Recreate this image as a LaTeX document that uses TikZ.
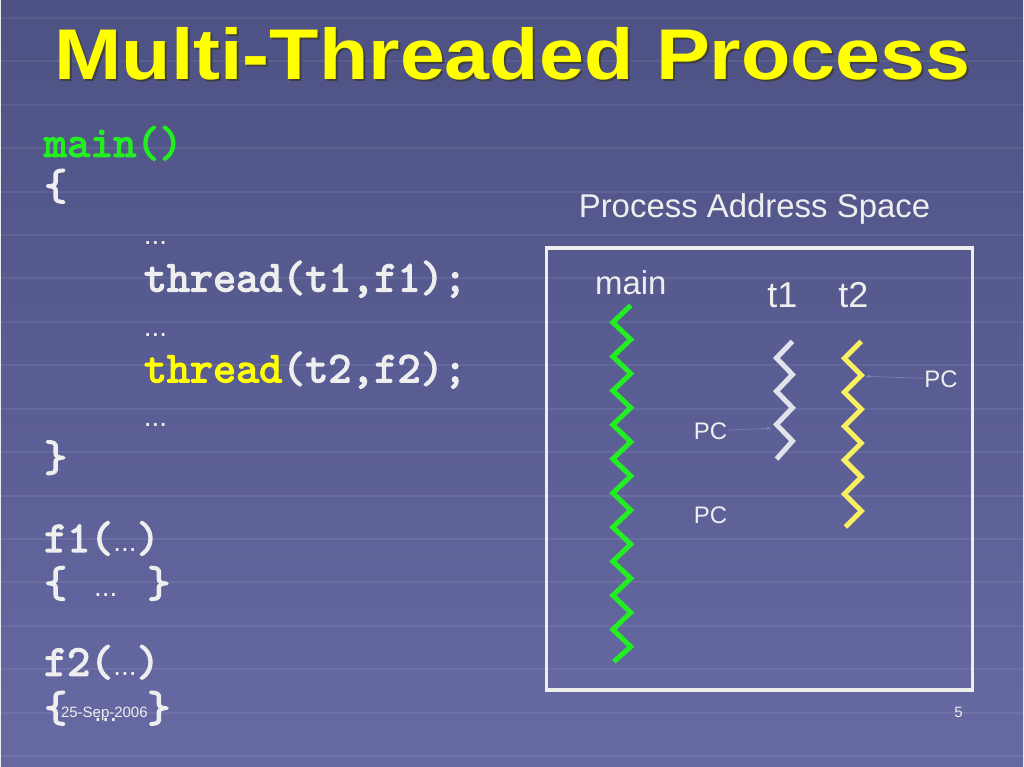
\documentclass[tikz,border=0pt]{standalone}
\usepackage{fontspec}
\setmainfont{Liberation Sans}
\setsansfont{Liberation Sans}
\newfontfamily\codefont{lmmono10-regular.otf}[FakeBold=3]
\usepackage{xcolor}
\usetikzlibrary{positioning, arrows}

\definecolor{slidetop}{HTML}{4D5183}
\definecolor{slidebot}{HTML}{6769A3}
\definecolor{codegreen}{HTML}{22EE22}
\definecolor{codeyellow}{HTML}{FFFF00}
\definecolor{codewhite}{HTML}{EEEEEE}
\definecolor{threadwhite}{HTML}{E2E2EA}
\definecolor{threadyellow}{HTML}{F8F060}
\definecolor{pcline}{HTML}{7C82B8}

\newcommand{\codedots}{{\sffamily\mdseries\fontsize{28}{28}\selectfont...}}

\tikzset{
    code/.style={anchor=base west, inner sep=0pt, text=codewhite, font=\codefont\fontsize{44}{44}\selectfont},
    sans/.style={anchor=base, inner sep=0pt, text=codewhite, font=\fontsize{33}{33}\selectfont},
    pc/.style={anchor=base west, inner sep=0pt, text=codewhite, font=\fontsize{24}{24}\selectfont},
    foot/.style={anchor=base west, inner sep=0pt, text=codewhite, font=\fontsize{15}{15}\selectfont},
    zig/.style={line width=5pt, line join=miter},
    pcarrow/.style={pcline, line width=0.6pt, -latex},
    gridline/.style={white, opacity=0.07, line width=2pt}
}

\begin{document}
\begin{tikzpicture}[x=1pt, y=-1pt]
    % slide background
    \fill[top color=slidetop, bottom color=slidebot] (0,0) rectangle (1024,768);
    \foreach \y in {18,61.5,...,768}
        \draw[gridline] (0,\y) -- (1024,\y);

    % title
    \node[anchor=base, inner sep=0pt, xscale=1.125, text=black!75, font=\bfseries\fontsize{72}{72}\selectfont] (titleshadow) at (514.5,82) {Multi-Threaded Process};
    \node[anchor=base, inner sep=0pt, xscale=1.125, text=codeyellow, font=\bfseries\fontsize{72}{72}\selectfont] (title) at (512.5,80) {Multi-Threaded Process};

    % program text
    \node[code, text=codegreen] (lmain) at (43,157) {main()};
    \node[code] (lopen) at (43,200) {\{};
    \node[code] (ldots1) at (143,245) {\codedots};
    \node[code] (lthread1) at (143,292) {thread(t1,f1);};
    \node[code] (ldots2) at (143,337) {\codedots};
    \node[code] (lthread2) at (143,383) {\textcolor{codeyellow}{thread}(t2,f2);};
    \node[code] (ldots3) at (143,427) {\codedots};
    \node[code] (lclose) at (43,472) {\}};
    \node[code] (lf1) at (43,553) {f1(\codedots)};
    \node[code] (lbody1) at (43,598) {\{\hspace{27pt}\codedots\hspace{30pt}\}};
    \node[code] (lf2) at (43,677) {f2(\codedots)};
    \node[code] (lbody2) at (43,723) {\{\hspace{27pt}\codedots\hspace{30pt}\}};

    % address space
    \node[sans] (space) at (755,218) {Process Address Space};
    \draw[codewhite, line width=3.5pt] (546.5,248.5) rectangle (973.5,691.5);

    \node[sans] (mainlabel) at (631,295) {main};
    \node[sans, font=\fontsize{36}{36}\selectfont] (t1label) at (783,308) {t1};
    \node[sans, font=\fontsize{36}{36}\selectfont] (t2label) at (854,308) {t2};

    % threads
    \draw[zig, codegreen] (631,306) \foreach \k in {0,...,9} { -- (613,{323+34.2*\k}) -- (631,{340.1+34.2*\k}) } -- (614,663);
    \draw[zig, threadwhite] (793,342) \foreach \k in {0,1,2} { -- (777,{358.7+33.3*\k}) -- (793,{375.3+33.3*\k}) } -- (777,460);
    \draw[zig, threadyellow] (862,342) \foreach \k in {0,...,4} { -- (845,{359+34*\k}) -- (862,{376+34*\k}) } -- (846,528);

    % program counters
    \node[pc] (pc1) at (694,440) {PC};
    \node[pc] (pc2) at (694,525) {PC};
    \node[pc] (pc3) at (925,388) {PC};
    \coordinate (t1pc) at (772,429);
    \coordinate (t2pc) at (866,377);
    \draw[pcarrow] (pc1) -- (t1pc);
    \draw[pcarrow] (pc3) -- (t2pc);

    % footer
    \node[foot] (date) at (60,719) {25-Sep-2006};
    \node[foot] (page) at (955,719) {5};
\end{tikzpicture}
\end{document}
